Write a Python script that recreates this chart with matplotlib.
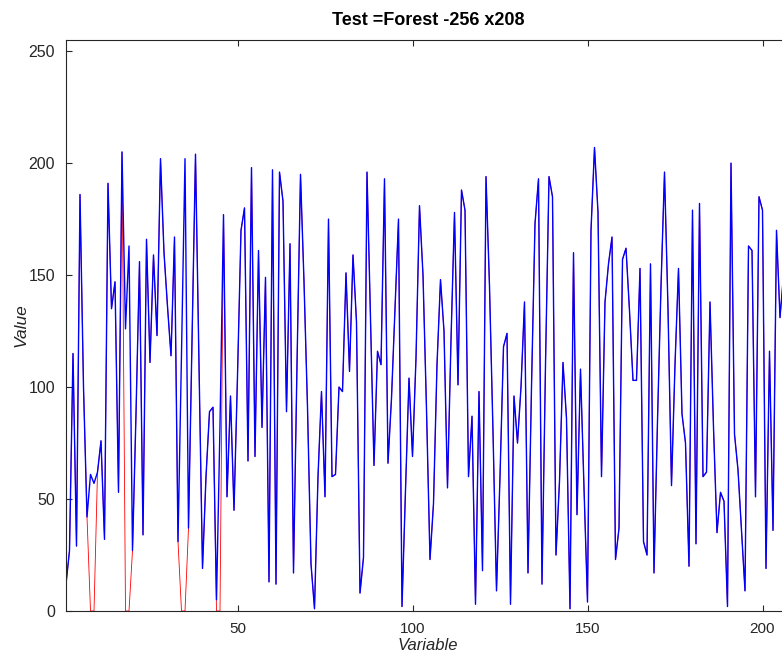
import matplotlib
matplotlib.use("Agg")
import matplotlib.pyplot as plt
import numpy as np

# blue series, one value per variable index (1..206)
values = [
    12, 27, 115, 29, 186, 100, 42, 61, 57, 62,
    76, 32, 191, 135, 147, 53, 205, 126, 163, 27,
    88, 156, 34, 166, 111, 159, 123, 202, 160, 136,
    114, 167, 31, 115, 202, 37, 120, 204, 110, 19,
    60, 89, 91, 5, 83, 177, 51, 96, 45, 105,
    170, 180, 67, 198, 69, 161, 82, 149, 13, 197,
    12, 196, 183, 89, 164, 17, 110, 195, 147, 91,
    21, 1, 60, 98, 51, 175, 60, 61, 100, 98,
    151, 107, 159, 129, 8, 24, 196, 130, 65, 116,
    110, 193, 66, 95, 135, 175, 2, 54, 104, 69,
    113, 181, 150, 90, 23, 48, 110, 148, 125, 55,
    121, 178, 101, 188, 179, 60, 87, 3, 98, 18,
    194, 145, 80, 9, 60, 118, 124, 3, 96, 75,
    100, 138, 17, 100, 173, 193, 12, 110, 194, 185,
    25, 58, 111, 86, 1, 160, 43, 108, 55, 4,
    170, 207, 178, 60, 138, 155, 167, 23, 37, 157,
    162, 134, 103, 103, 153, 31, 25, 155, 17, 85,
    145, 196, 135, 56, 110, 153, 88, 75, 20, 179,
    30, 182, 60, 62, 138, 82, 35, 53, 49, 2,
    200, 79, 63, 36, 9, 163, 161, 51, 185, 179,
    19, 116, 36, 170, 131, 150,
]

# indices (1-based) where the red series drops to zero
red_zero_idx = [8, 9, 18, 19, 34, 35, 44, 45]

x = np.arange(1, len(values) + 1)
blue = np.array(values, dtype=float)
red = blue.copy()
red[np.array(red_zero_idx) - 1] = 0

plt.rcParams['font.family'] = ['Liberation Sans', 'DejaVu Sans']
axis_col = '#262626'

fig = plt.figure(figsize=(7.82, 6.56), dpi=100)
ax = fig.add_axes([66 / 782, 45 / 656, 724.5 / 782, 571 / 656])

ax.plot(x, red, color='red', linewidth=0.6)
ax.plot(x, blue, color='blue', linewidth=1.0)

ax.set_xlim(1, 208)
ax.set_ylim(0, 255)
ax.set_xticks([50, 100, 150, 200])
ax.set_yticks([0, 50, 100, 150, 200, 250])

ax.tick_params(direction='in', top=True, right=True, labelsize=11.5,
               colors=axis_col, length=4, width=0.8)
ax.tick_params(axis='x', pad=8, labelsize=11)
ax.tick_params(axis='y', pad=8)
for s in ax.spines.values():
    s.set_color(axis_col)
    s.set_linewidth(0.8)

ax.set_title('Test =Forest -256 x208', fontsize=13, fontweight='bold', pad=11)
ax.set_xlabel('Variable', fontsize=12, style='italic', color=axis_col, labelpad=1)
ax.set_ylabel('Value', fontsize=12.5, style='italic', color=axis_col, labelpad=0)

fig.savefig('out.png', dpi=100)
